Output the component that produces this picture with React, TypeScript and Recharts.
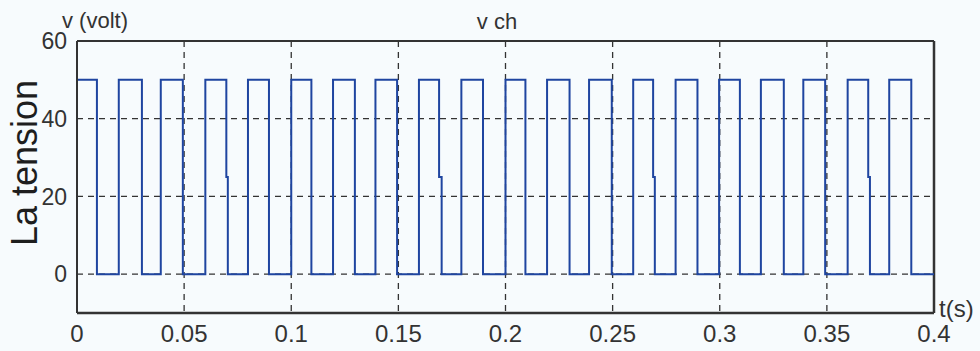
import { CartesianGrid, Line, LineChart, ReferenceLine, XAxis, YAxis } from "recharts";

// switching instants (s) and the voltage reached at each one (V)
const times = [
  0, 0, 0.0093, 0.0195, 0.0303, 0.0391, 0.0494, 0.0599, 0.0697, 0.0704, 0.0798, 0.0896, 0.1, 0.1094,
  0.1195, 0.1297, 0.1393, 0.1494, 0.1596, 0.169, 0.1702, 0.1794, 0.1895, 0.2, 0.2093, 0.2194, 0.2299,
  0.239, 0.2496, 0.2596, 0.2689, 0.2697, 0.2794, 0.2896, 0.2997, 0.3094, 0.3192, 0.3299, 0.339, 0.3492,
  0.3597, 0.3693, 0.3701, 0.3791, 0.3894, 0.4
];
const volts = [
  0, 50, 0, 50, 0, 50, 0, 50, 25, 0, 50, 0, 50, 0, 50, 0, 50, 0, 50, 25, 0, 50, 0, 50, 0, 50, 0, 50, 0,
  50, 25, 0, 50, 0, 50, 0, 50, 0, 50, 0, 50, 25, 0, 50, 0, 0
];
const xTicks = [0, 0.05, 0.1, 0.15, 0.2, 0.25, 0.3, 0.35, 0.4];
const yTicks = [0, 20, 40, 60];

const data = times.map((t, i) => ({ t, v: volts[i] }));

const ink = "#333333";
const font = "'Liberation Sans', Arial, sans-serif";

export default function App() {
  return (
    <div style={{ position: "absolute", left: 0, top: 0, width: 980, height: 351, background: "#f7fbfd" }}>
      <LineChart width={980} height={351} data={data} margin={{ top: 41, right: 46, left: 0, bottom: 0 }}>
        <CartesianGrid stroke={ink} strokeDasharray="6 5" strokeWidth={1.3} />
        <XAxis
          dataKey="t"
          type="number"
          domain={[0, 0.4]}
          ticks={xTicks}
          height={38}
          tickSize={0}
          tickMargin={12}
          tickLine={false}
          axisLine={{ stroke: ink, strokeWidth: 2.5 }}
          tick={{ fontSize: 24, fill: ink, fontFamily: font }}
        />
        <YAxis
          type="number"
          domain={[-10, 60]}
          ticks={yTicks}
          width={77}
          tickSize={0}
          tickMargin={10}
          tickLine={false}
          axisLine={{ stroke: ink, strokeWidth: 2 }}
          tick={{ fontSize: 23, fill: ink, fontFamily: font }}
        />
        <ReferenceLine y={60} stroke={ink} strokeWidth={2} />
        <ReferenceLine x={0.4} stroke={ink} strokeWidth={2.5} />
        <Line
          dataKey="v"
          type="stepAfter"
          stroke="#1f45a0"
          strokeWidth={2}
          dot={false}
          isAnimationActive={false}
        />
      </LineChart>
      <svg
        width={980}
        height={351}
        style={{ position: "absolute", left: 0, top: 0, pointerEvents: "none" }}
        fontFamily={font}
      >
        <text x={62} y={28} fontSize={22} fill={ink}>
          v (volt)
        </text>
        <text x={497} y={29} fontSize={22} fill={ink} textAnchor="middle">
          v ch
        </text>
        <text x={939} y={317} fontSize={24} fill={ink}>
          t(s)
        </text>
        <text
          x={37}
          y={163}
          fontSize={36}
          fill="#1e1e1e"
          textAnchor="middle"
          transform="rotate(-90 37 163)"
        >
          La tension
        </text>
      </svg>
    </div>
  );
}
